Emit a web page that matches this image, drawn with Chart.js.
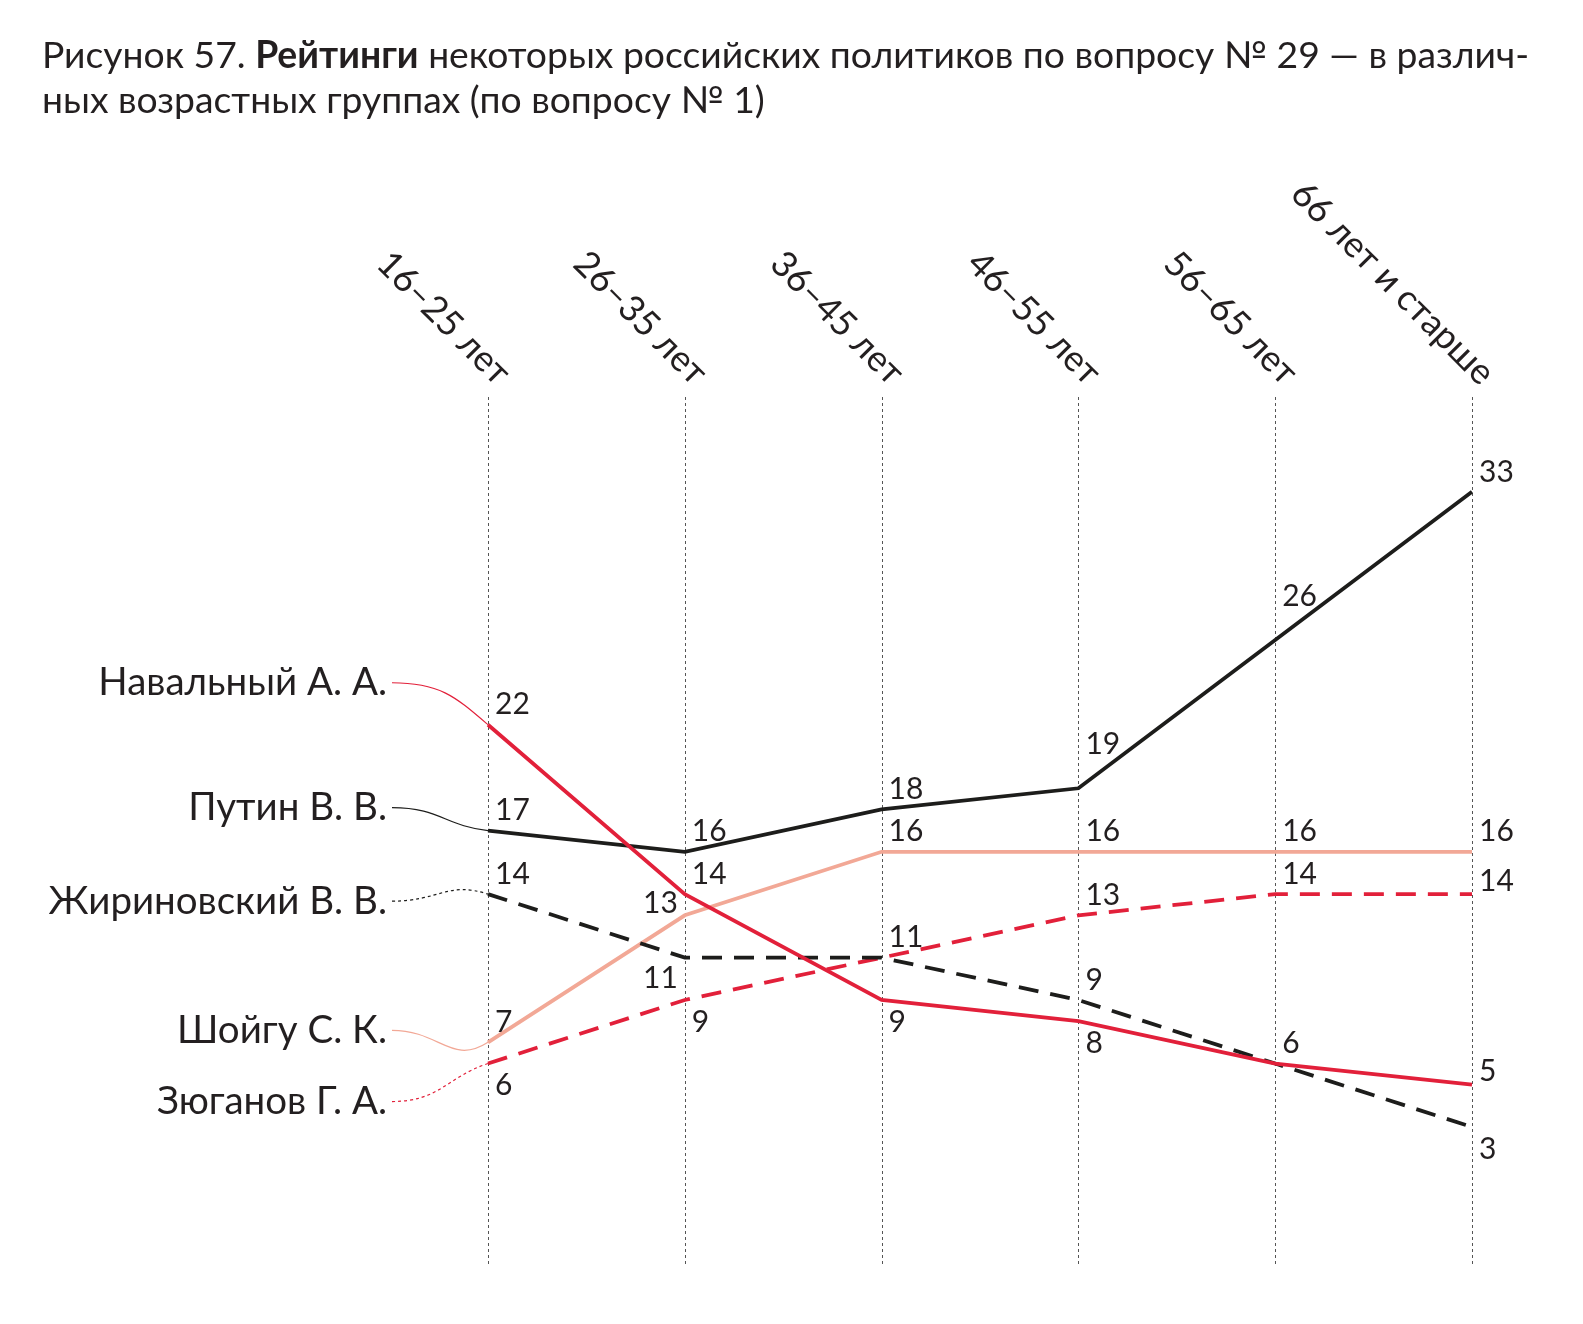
<!DOCTYPE html>
<html lang="ru">
<head>
<meta charset="utf-8">
<title>Рисунок 57</title>
<script src="https://cdn.jsdelivr.net/npm/chart.js@4.4.1/dist/chart.umd.min.js"></script>
<style>
  html, body { margin: 0; padding: 0; background: #fff; }
  #wrap { position: relative; width: 1583px; height: 1324px; }
  #title {
    position: absolute; left: 42px; top: 31px; margin: 0;
    font: 37.3px Lato, "Open Sans", sans-serif; line-height: 45px;
    color: #231f20; font-weight: normal;
  }
  #title b { font-weight: bold; }
  #chart { position: absolute; left: 0; top: 0; }
</style>
</head>
<body>
<div id="wrap">
  <canvas id="chart"></canvas>
  <h1 id="title">Рисунок 57. <b>Рейтинги</b> некоторых российских политиков по вопросу № 29 — в различ-<br>ных возрастных группах (по вопросу № 1)</h1>
</div>
<script>
const ageGroups = ["16–25 лет", "26–35 лет", "36–45 лет", "46–55 лет", "56–65 лет", "66 лет и старше"];

const navalny     = [22, 14, 9, 8, 6, 5];
const putin       = [17, 16, 18, 19, 26, 33];
const zhirinovsky = [14, 11, 11, 9, 6, 3];
const shoigu      = [7, 13, 16, 16, 16, 16];
const zyuganov    = [6, 9, 11, 13, 14, 14];

const names = ["Навальный А. А.", "Путин В. В.", "Жириновский В. В.", "Шойгу С. К.", "Зюганов Г. А."];

// where each value label sits relative to its point ("" = not shown, shared with another line)
const labelPlace = [
  ["ar", "ar", "br", "br", "ar", "r"],
  ["ar", "ar", "ar", "au", "au", "ar"],
  ["ar", "bl", "ar", "ar", "", "br"],
  ["ar", "al", "ar", "ar", "ar", "ar"],
  ["br", "br", "", "ar", "ar", "r"]
];
// vertical shift of the left-hand names from the first point, px
const nameShift = [-42, -23, 7, -12, 38];

const RED = "#e2203a";
const BLACK = "#1d1d1b";
const PINK = "#f2a896";
const TEXT = "#231f20";

const styles = [
  { color: RED, dash: [] },
  { color: BLACK, dash: [] },
  { color: BLACK, dash: [20, 12] },
  { color: PINK, dash: [] },
  { color: RED, dash: [20, 12] }
];

const series = [navalny, putin, zhirinovsky, shoigu, zyuganov];

const offsets = {
  ar: [7, -20, "left"],
  au: [7, -44, "left"],
  r:  [7, -13, "left"],
  br: [7, 22, "left"],
  al: [-7, -12, "right"],
  bl: [-7, 21, "right"]
};

const decor = {
  id: "decor",
  beforeDatasetsDraw(chart) {
    const { ctx, chartArea, scales } = chart;
    const xs = scales.x, ys = scales.y;
    ctx.save();
    // dotted verticals
    ctx.strokeStyle = "#555";
    ctx.lineWidth = 1;
    ctx.setLineDash([3, 3]);
    ageGroups.forEach((g, i) => {
      const x = Math.round(xs.getPixelForValue(i)) + 0.5;
      ctx.beginPath();
      ctx.moveTo(x, chartArea.top);
      ctx.lineTo(x, chartArea.bottom);
      ctx.stroke();
    });
    // connectors from names to first points
    const startX = 392;
    series.forEach((vals, s) => {
      const x0 = xs.getPixelForValue(0), y0 = ys.getPixelForValue(vals[0]);
      const x1 = xs.getPixelForValue(1), y1 = ys.getPixelForValue(vals[1]);
      const ly = y0 + nameShift[s];
      const len = Math.hypot(x1 - x0, y1 - y0);
      const ux = (x1 - x0) / len, uy = (y1 - y0) / len;
      const k = (x0 - startX) * 0.45;
      ctx.strokeStyle = styles[s].color;
      ctx.lineWidth = 1.2;
      ctx.setLineDash(styles[s].dash.length ? [3, 3] : []);
      ctx.beginPath();
      ctx.moveTo(startX, ly);
      ctx.bezierCurveTo(startX + (x0 - startX) * 0.5, ly, x0 - k * ux, y0 - k * uy, x0, y0);
      ctx.stroke();
    });
    ctx.restore();
  },
  afterDatasetsDraw(chart) {
    const { ctx, chartArea, scales } = chart;
    const xs = scales.x, ys = scales.y;
    ctx.save();
    ctx.fillStyle = TEXT;
    // value labels
    ctx.font = "30px Lato, sans-serif";
    ctx.textBaseline = "middle";
    series.forEach((vals, s) => {
      vals.forEach((v, i) => {
        const p = labelPlace[s][i];
        if (!p) return;
        const o = offsets[p];
        ctx.textAlign = o[2];
        ctx.fillText(String(v), xs.getPixelForValue(i) + o[0], ys.getPixelForValue(v) + o[1]);
      });
    });
    // names on the left
    ctx.font = "38.5px Lato, sans-serif";
    ctx.textAlign = "right";
    series.forEach((vals, s) => {
      ctx.fillText(names[s], 387, ys.getPixelForValue(vals[0]) + nameShift[s]);
    });
    // rotated category labels
    ctx.font = "36px Lato, sans-serif";
    ctx.textAlign = "right";
    ctx.textBaseline = "alphabetic";
    ageGroups.forEach((g, i) => {
      ctx.save();
      ctx.translate(xs.getPixelForValue(i) + 8, chartArea.top - 10);
      ctx.rotate(Math.PI / 4);
      ctx.fillText(g, 0, 0);
      ctx.restore();
    });
    ctx.restore();
  }
};

new Chart(document.getElementById("chart"), {
  type: "line",
  data: {
    labels: ageGroups,
    datasets: series.map((vals, s) => ({
      label: names[s],
      data: vals,
      borderColor: styles[s].color,
      borderDash: styles[s].dash,
      borderWidth: 3.8,
      pointRadius: 0,
      fill: false,
      tension: 0
    }))
  },
  options: {
    responsive: true,
    maintainAspectRatio: false,
    animation: false,
    layout: { padding: { left: 488, right: 111, top: 397, bottom: 57 } },
    plugins: {
      legend: { display: false },
      tooltip: { enabled: false }
    },
    scales: {
      x: { display: false, offset: false },
      y: { display: false, min: -3.61, max: 37.48 }
    }
  },
  plugins: [decor]
});
</script>
</body>
</html>
